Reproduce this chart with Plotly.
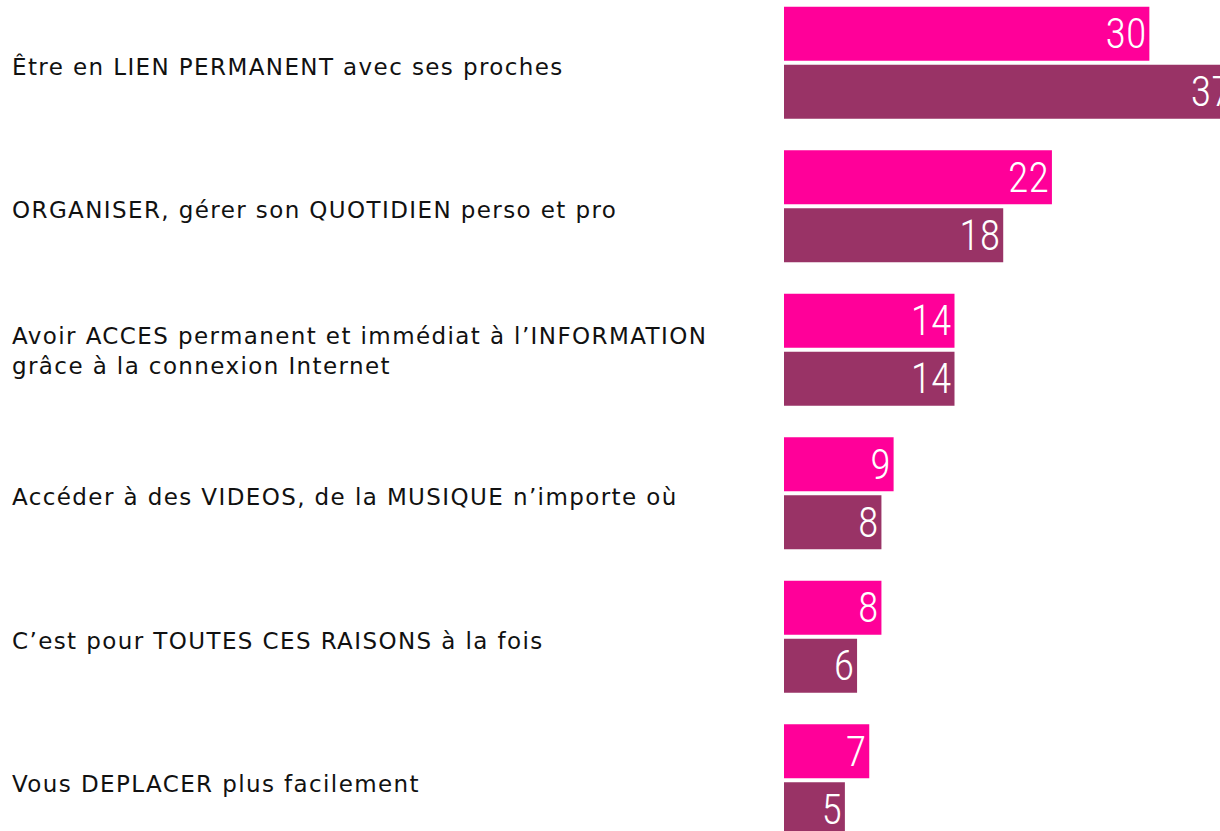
import plotly.graph_objects as go

categories = [
    "Être en LIEN PERMANENT avec ses proches",
    "ORGANISER, gérer son QUOTIDIEN perso et pro",
    "Avoir ACCES permanent et immédiat à l’INFORMATION<br>grâce à la connexion Internet",
    "Accéder à des VIDEOS, de la MUSIQUE n’importe où",
    "C’est pour TOUTES CES RAISONS à la fois",
    "Vous DEPLACER plus facilement",
]
series_a = [30, 22, 14, 9, 8, 7]
series_b = [37, 18, 14, 8, 6, 5]

W, H = 1220, 831
x0_px = 784
yidx = list(range(len(categories)))

fig = go.Figure()
numfont = dict(family="Roboto Condensed, Roboto", size=42, color="white", weight=300)
for vals, col in ((series_a, "#FF0099"), (series_b, "#993366")):
    fig.add_trace(go.Bar(
        y=yidx, x=vals, orientation="h", marker=dict(color=col, line=dict(width=0)),
        text=[str(v) for v in vals], textposition="inside", insidetextanchor="end",
        textangle=0, insidetextfont=numfont, constraintext="none",
        cliponaxis=True, hoverinfo="skip",
    ))

for i, c in enumerate(categories):
    lines = c.split("<br>")
    txt = "<br>".join('<span style="letter-spacing:1.4px">%s</span>' % l for l in lines)
    fig.add_annotation(
        x=10 / W, xref="paper", y=i, yref="y", text=txt, showarrow=False,
        xanchor="left", yanchor="middle", align="left",
        yshift=-4 if len(lines) == 1 else -1,
        font=dict(family="DejaVu Sans", size=23, color="#111111"),
    )

spacing = 143.5
c0 = 62.75
top = -c0 / spacing
bottom = (len(categories) - 1) + (H - (c0 + spacing * (len(categories) - 1))) / spacing

fig.update_layout(
    width=W, height=H, margin=dict(l=0, r=0, t=0, b=0),
    paper_bgcolor="white", plot_bgcolor="white",
    barmode="group", bargap=0.19, bargroupgap=0.069,
    showlegend=False,
    xaxis=dict(domain=[x0_px / W, 1], range=[0, 35.8], visible=False, fixedrange=True),
    yaxis=dict(range=[bottom, top], visible=False, fixedrange=True),
)
fig.write_html("out.html", config={"displayModeBar": False},
               post_script="document.body.style.margin='0';")
